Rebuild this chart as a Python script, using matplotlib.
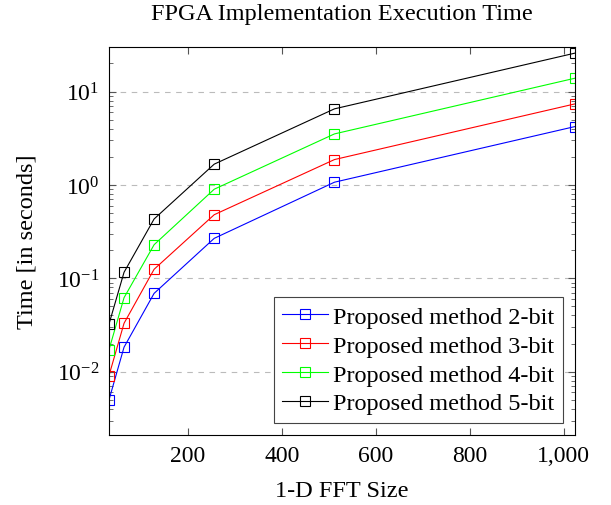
import numpy as np
import matplotlib.pyplot as plt
from matplotlib.ticker import FixedLocator, FuncFormatter, LogLocator, NullFormatter

plt.rcParams['font.family'] = ['Liberation Serif', 'DejaVu Serif']
plt.rcParams['mathtext.fontset'] = 'stix'

fft_size = [32, 64, 128, 256, 512, 1024]
time_2bit = [0.0050, 0.0183, 0.069, 0.268, 1.07, 4.22]
time_3bit = [0.0091, 0.033, 0.125, 0.48, 1.87, 7.38]
time_4bit = [0.0172, 0.062, 0.229, 0.90, 3.52, 13.9]
time_5bit = [0.0324, 0.116, 0.432, 1.67, 6.53, 25.8]

series = [
    ("Proposed method 2-bit", time_2bit, "#0000ff"),
    ("Proposed method 3-bit", time_3bit, "#ff0000"),
    ("Proposed method 4-bit", time_4bit, "#00ff00"),
    ("Proposed method 5-bit", time_5bit, "#000000"),
]

fig = plt.figure(figsize=(6.11, 5.06), dpi=100)
ax = fig.add_axes([109 / 611, 1 - 436 / 506, (575 - 109) / 611, (436 - 48) / 506])

for name, vals, col in series:
    ax.plot(fft_size, vals, color=col, lw=0.8, marker="s", ms=7, mfc="none",
            mec=col, mew=0.8, label=name)

ax.set_yscale("log")
ax.set_xlim(32, 1024)
ax.set_ylim(0.0021, 30)

ax.xaxis.set_major_locator(FixedLocator([200, 400, 600, 800, 1000]))
ax.xaxis.set_major_formatter(FuncFormatter(lambda v, p: f"{int(v):,}"))
ax.yaxis.set_major_locator(LogLocator(base=10))
ax.yaxis.set_minor_locator(LogLocator(base=10, subs=np.arange(2, 10)))
ax.yaxis.set_minor_formatter(NullFormatter())

ax.tick_params(which="both", direction="in", top=True, right=True, labelsize=17, color="#555555")
ax.tick_params(which="major", length=5, pad=7)
ax.tick_params(which="minor", length=3)
ax.grid(True, axis="y", which="major", ls=(0, (5, 5)), color="#bbbbbb", lw=0.8)

ax.set_xlabel("1-D FFT Size", fontsize=17.5, labelpad=10)
ax.set_ylabel("Time [in seconds]", fontsize=17.5, labelpad=14)
ax.set_title("FPGA Implementation Execution Time", fontsize=17.5, pad=20)

leg = ax.legend(loc="lower right", fontsize=17.5, numpoints=1, handlelength=1.9,
                fancybox=False, edgecolor="#444444", framealpha=1,
                borderaxespad=0.5, labelspacing=0.28, handletextpad=0.2, borderpad=0.35)
leg.get_frame().set_linewidth(0.8)

fig.savefig("out.png", dpi=100)
